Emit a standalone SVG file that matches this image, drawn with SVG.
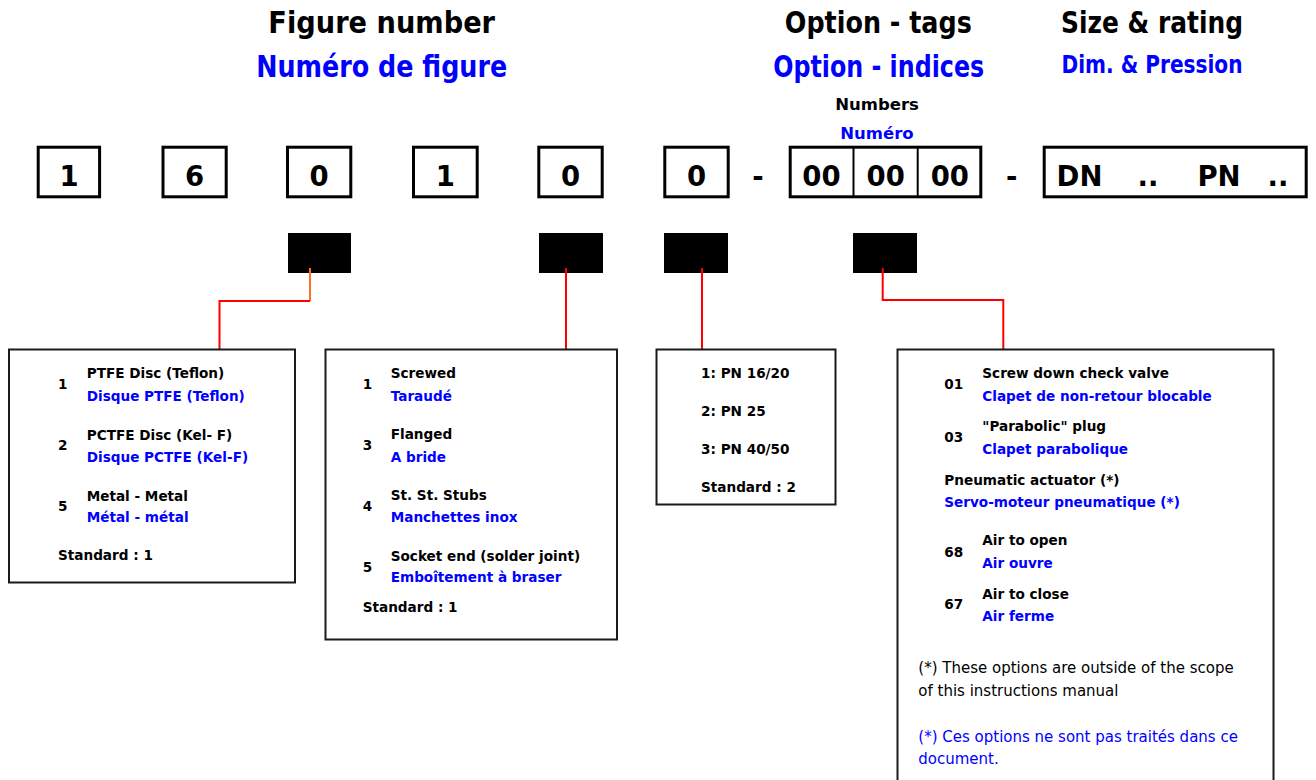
<svg xmlns="http://www.w3.org/2000/svg" width="1316" height="780" viewBox="0 0 1316 780">
<style>
text{font-family:"DejaVu Sans","Liberation Sans",sans-serif;font-weight:700;fill:#000}
.b{fill:#0000ff}
.h1{font-size:30px;text-anchor:middle}
.h3{font-size:24px;text-anchor:middle}
.sm{font-size:16.5px;text-anchor:middle}
.dg{font-size:27.5px;text-anchor:middle}
.t{font-size:13.6px}
.n{font-size:15px;font-weight:400}
.dbox{fill:none;stroke:#000;stroke-width:3}
.obox{fill:#fff;stroke:#1a1a1a;stroke-width:2}
.blk{fill:#000}
.red{fill:none;stroke:#ff0000;stroke-width:2}
.org{fill:none;stroke:#ff7020;stroke-width:2}
</style>
<rect width="1316" height="780" fill="#fff"/>

<g id="headers">
<text class="h1" x="381.7" y="33.3" textLength="226.7" lengthAdjust="spacingAndGlyphs">Figure number</text>
<text class="h1 b" x="381.7" y="77.3" textLength="251" lengthAdjust="spacingAndGlyphs">Numéro de figure</text>
<text class="h1" x="878.3" y="33.3" textLength="187" lengthAdjust="spacingAndGlyphs">Option - tags</text>
<text class="h1 b" x="878.7" y="77.3" textLength="211" lengthAdjust="spacingAndGlyphs">Option - indices</text>
<text class="sm" x="877" y="110">Numbers</text>
<text class="sm b" x="877" y="139">Numéro</text>
<text class="h1" x="1152" y="33.3" textLength="182" lengthAdjust="spacingAndGlyphs">Size &amp; rating</text>
<text class="h3 b" x="1152" y="73.3" textLength="181" lengthAdjust="spacingAndGlyphs">Dim. &amp; Pression</text>
</g>

<g id="digit1"><rect class="dbox" x="38.2" y="147.2" width="61.4" height="49.6"/><text class="dg" x="69" y="185.5">1</text></g>
<g id="digit2"><rect class="dbox" x="163" y="147.2" width="63.2" height="49.6"/><text class="dg" x="194.5" y="185.5">6</text></g>
<g id="digit3"><rect class="dbox" x="287.5" y="147.2" width="63.3" height="49.6"/><text class="dg" x="319" y="185.5">0</text></g>
<g id="digit4"><rect class="dbox" x="413.5" y="147.2" width="63.7" height="49.6"/><text class="dg" x="445.3" y="185.5">1</text></g>
<g id="digit5"><rect class="dbox" x="538.8" y="147.2" width="63.4" height="49.6"/><text class="dg" x="570.5" y="185.5">0</text></g>
<g id="digit6"><rect class="dbox" x="664.8" y="147.2" width="63.4" height="49.6"/><text class="dg" x="696.5" y="185.5">0</text></g>
<g id="dash1"><text class="dg" x="758" y="185.5">-</text></g>
<g id="options"><rect class="dbox" x="790.2" y="147.2" width="190.6" height="49.6"/>
<line x1="853.5" y1="147" x2="853.5" y2="197" stroke="#000" stroke-width="2"/>
<line x1="917.7" y1="147" x2="917.7" y2="197" stroke="#000" stroke-width="2"/>
<text class="dg" x="821.5" y="185.5">00</text><text class="dg" x="885.7" y="185.5">00</text><text class="dg" x="949.8" y="185.5">00</text></g>
<g id="dash2"><text class="dg" x="1011.7" y="185.5">-</text></g>
<g id="size"><rect class="dbox" x="1044.2" y="147.2" width="262" height="49.6"/>
<text class="dg" x="1079.5" y="185.5">DN</text><text class="dg" x="1148" y="185.5">..</text><text class="dg" x="1219" y="185.5">PN</text><text class="dg" x="1278" y="185.5">..</text></g>

<g id="markers">
<rect class="blk" x="288" y="233" width="63" height="40"/>
<rect class="blk" x="539" y="233" width="64" height="40"/>
<rect class="blk" x="664" y="233" width="64" height="40"/>
<rect class="blk" x="853" y="233" width="64" height="40"/>
</g>

<g id="connectors">
<polyline class="org" points="310,268 310,301"/>
<polyline class="red" points="310,301 219.5,301 219.5,349"/>
<polyline class="red" points="566,268 566,349"/>
<polyline class="red" points="702,268 702,349"/>
<polyline class="red" points="882.7,268 882.7,300 1003.3,300 1003.3,349"/>
</g>

<g id="box-disc">
<rect class="obox" x="9" y="349.5" width="286" height="233"/>
<text class="t" x="58" y="389">1</text>
<text class="t" x="86.7" y="378">PTFE Disc (Teflon)</text>
<text class="t b" x="86.7" y="401">Disque PTFE (Teflon)</text>
<text class="t" x="58" y="450">2</text>
<text class="t" x="86.7" y="440">PCTFE Disc (Kel- F)</text>
<text class="t b" x="86.7" y="462">Disque PCTFE (Kel-F)</text>
<text class="t" x="58" y="511">5</text>
<text class="t" x="86.7" y="500.7">Metal - Metal</text>
<text class="t b" x="86.7" y="522.3">Métal - métal</text>
<text class="t" x="58" y="560">Standard : 1</text>
</g>

<g id="box-ends">
<rect class="obox" x="325.5" y="349.5" width="291.5" height="290"/>
<text class="t" x="362.7" y="389">1</text>
<text class="t" x="390.7" y="378.3">Screwed</text>
<text class="t b" x="390.7" y="401">Taraudé</text>
<text class="t" x="362.7" y="450">3</text>
<text class="t" x="390.7" y="439">Flanged</text>
<text class="t b" x="390.7" y="461.7">A bride</text>
<text class="t" x="362.7" y="510.7">4</text>
<text class="t" x="390.7" y="500">St. St. Stubs</text>
<text class="t b" x="390.7" y="521.7">Manchettes inox</text>
<text class="t" x="362.7" y="572.3">5</text>
<text class="t" x="390.7" y="560.7">Socket end (solder joint)</text>
<text class="t b" x="390.7" y="582.3">Emboîtement à braser</text>
<text class="t" x="362.7" y="611.7">Standard : 1</text>
</g>

<g id="box-pn">
<rect class="obox" x="656.5" y="349.5" width="179" height="155"/>
<text class="t" x="701" y="377.7">1: PN 16/20</text>
<text class="t" x="701" y="415.7">2: PN 25</text>
<text class="t" x="701" y="453.7">3: PN 40/50</text>
<text class="t" x="701" y="491.7">Standard : 2</text>
</g>

<g id="box-options">
<rect class="obox" x="897.5" y="349.5" width="376" height="445"/>
<text class="t" x="944.3" y="389">01</text>
<text class="t" x="982.3" y="378.3">Screw down check valve</text>
<text class="t b" x="982.3" y="401">Clapet de non-retour blocable</text>
<text class="t" x="944.3" y="442.3">03</text>
<text class="t" x="982.3" y="431">"Parabolic" plug</text>
<text class="t b" x="982.3" y="454">Clapet parabolique</text>
<text class="t" x="944.3" y="485">Pneumatic actuator (*)</text>
<text class="t b" x="944.3" y="506.7">Servo-moteur pneumatique (*)</text>
<text class="t" x="944.3" y="556.7">68</text>
<text class="t" x="982.3" y="545">Air to open</text>
<text class="t b" x="982.3" y="567.7">Air ouvre</text>
<text class="t" x="944.3" y="609.3">67</text>
<text class="t" x="982.3" y="598.7">Air to close</text>
<text class="t b" x="982.3" y="620.7">Air ferme</text>
<text class="n" x="918.3" y="673.3">(*) These options are outside of the scope</text>
<text class="n" x="918.3" y="696">of this instructions manual</text>
<text class="n b" x="918.3" y="741.7">(*) Ces options ne sont pas traités dans ce</text>
<text class="n b" x="918.3" y="764">document.</text>
</g>
</svg>
